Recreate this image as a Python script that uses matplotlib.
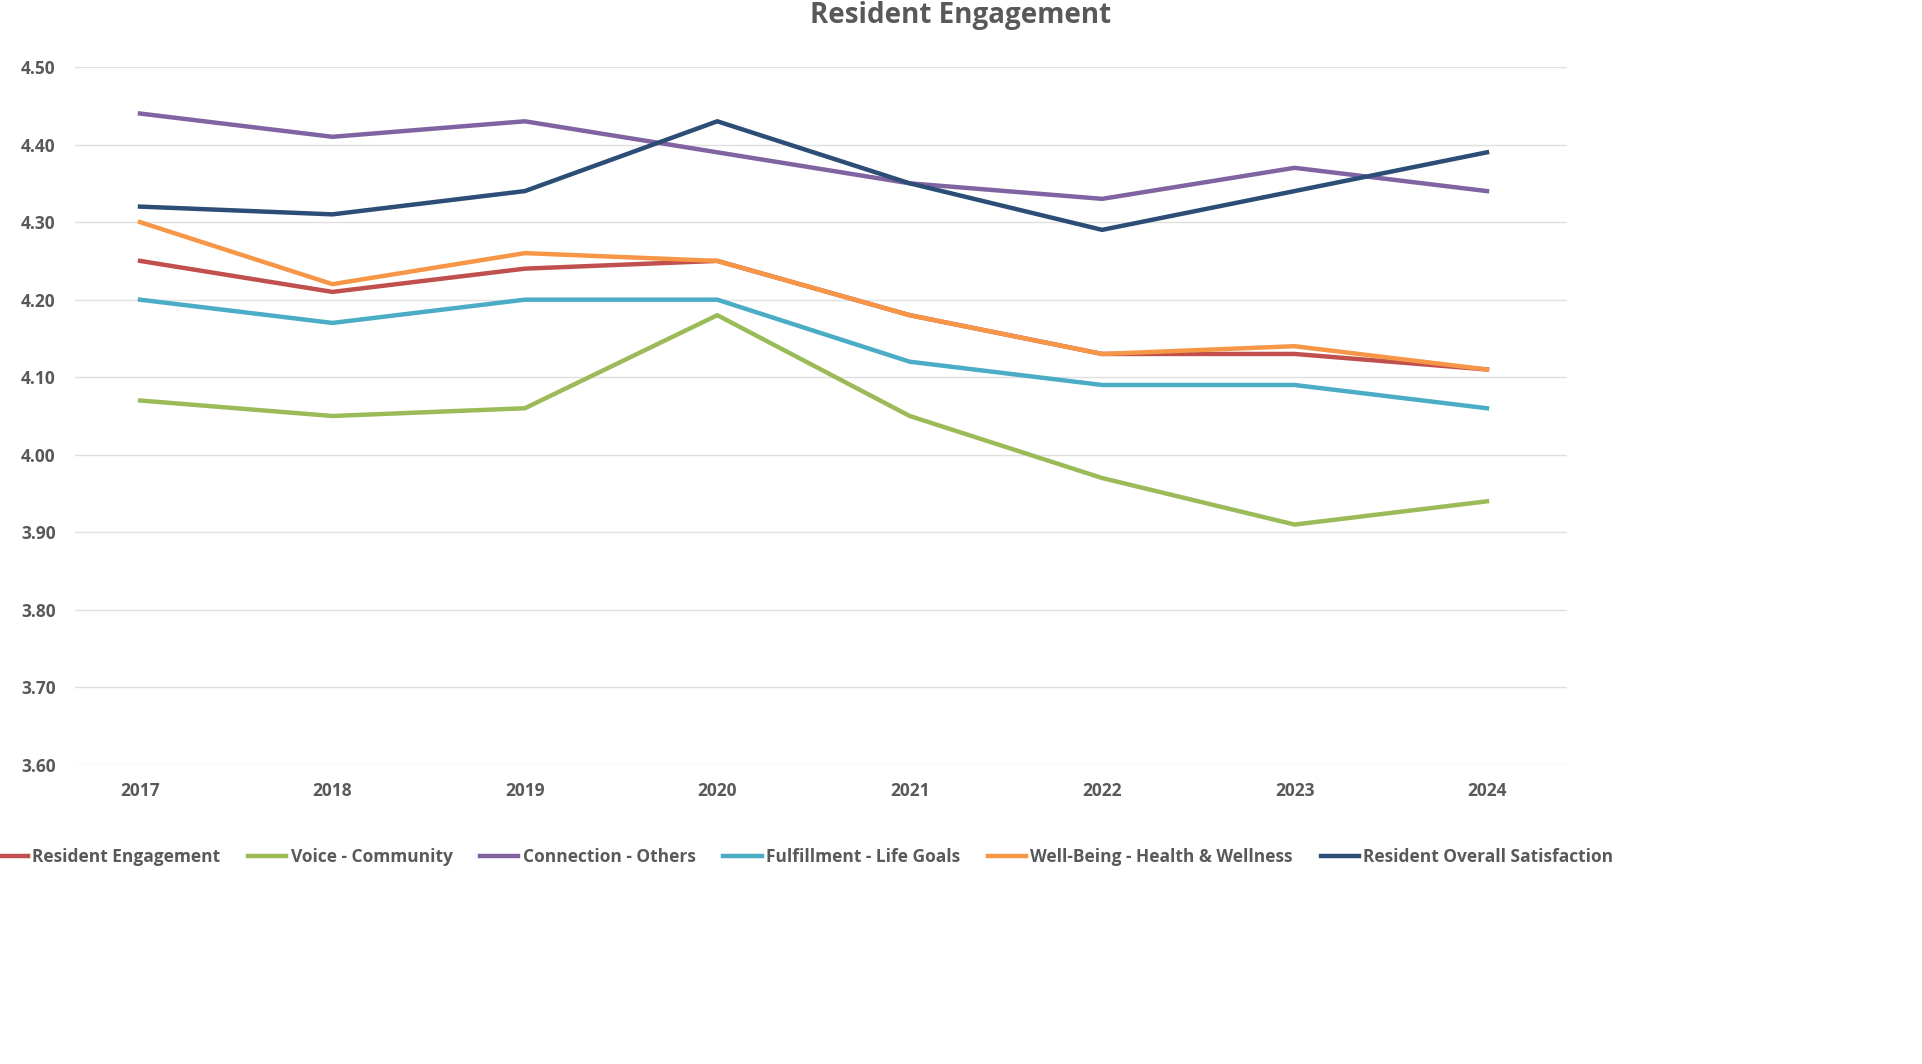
import matplotlib
matplotlib.use("Agg")
import matplotlib.pyplot as plt
from matplotlib.ticker import FixedLocator

plt.rcParams['font.family'] = ['Open Sans', 'DejaVu Sans']

years = [2017, 2018, 2019, 2020, 2021, 2022, 2023, 2024]
resident_engagement = [4.25, 4.21, 4.24, 4.25, 4.18, 4.13, 4.13, 4.11]
voice_community = [4.07, 4.05, 4.06, 4.18, 4.05, 3.97, 3.91, 3.94]
connection_others = [4.44, 4.41, 4.43, 4.39, 4.35, 4.33, 4.37, 4.34]
fulfillment_goals = [4.20, 4.17, 4.20, 4.20, 4.12, 4.09, 4.09, 4.06]
well_being = [4.30, 4.22, 4.26, 4.25, 4.18, 4.13, 4.14, 4.11]
overall_satisfaction = [4.32, 4.31, 4.34, 4.43, 4.35, 4.29, 4.34, 4.39]

series = [
    ("Resident Engagement", resident_engagement, "#C0504D"),
    ("Voice - Community", voice_community, "#9BBB59"),
    ("Connection - Others", connection_others, "#8064A2"),
    ("Fulfillment - Life Goals", fulfillment_goals, "#4BACC6"),
    ("Well-Being - Health & Wellness", well_being, "#F79646"),
    ("Resident Overall Satisfaction", overall_satisfaction, "#2C4D75"),
]

grey = "#595959"
fig = plt.figure(figsize=(19.22, 10.64), dpi=100)
ax = fig.add_axes([75/1922, 1-765/1064, (1567-75)/1922, (765-67)/1064])

for name, vals, col in series:
    ax.plot(years, vals, color=col, lw=3.2, label=name)

ax.set_ylim(3.6, 4.5)
ax.set_xlim(2017 - 65/192.4, 2024 + 80/192.4)
ax.yaxis.set_major_locator(FixedLocator([3.6 + 0.1*i for i in range(10)]))
ax.set_yticklabels([f"{3.6 + 0.1*i:.2f}" for i in range(10)])
ax.set_xticks(years)
ax.grid(axis='y', color="#E0E0E0", lw=1)
ax.set_axisbelow(True)
for s in ax.spines.values():
    s.set_visible(False)
ax.tick_params(length=0, labelsize=12.5, labelcolor=grey, pad=12)
for lbl in ax.get_xticklabels() + ax.get_yticklabels():
    lbl.set_fontweight('bold')
ax.tick_params(axis='y', pad=14)

fig.text(0.5, 1-1/1064, "Resident Engagement", ha='center', va='top',
         fontsize=20, fontweight='bold', color=grey)

fig.legend(loc='center', bbox_to_anchor=(0.417, 1-857/1064), ncol=6, frameon=False,
           prop={'size': 12.5, 'weight': 'bold'}, labelcolor=grey,
           handlelength=2.2, columnspacing=1.6, handletextpad=0.25)

fig.savefig("out.png", dpi=100)
